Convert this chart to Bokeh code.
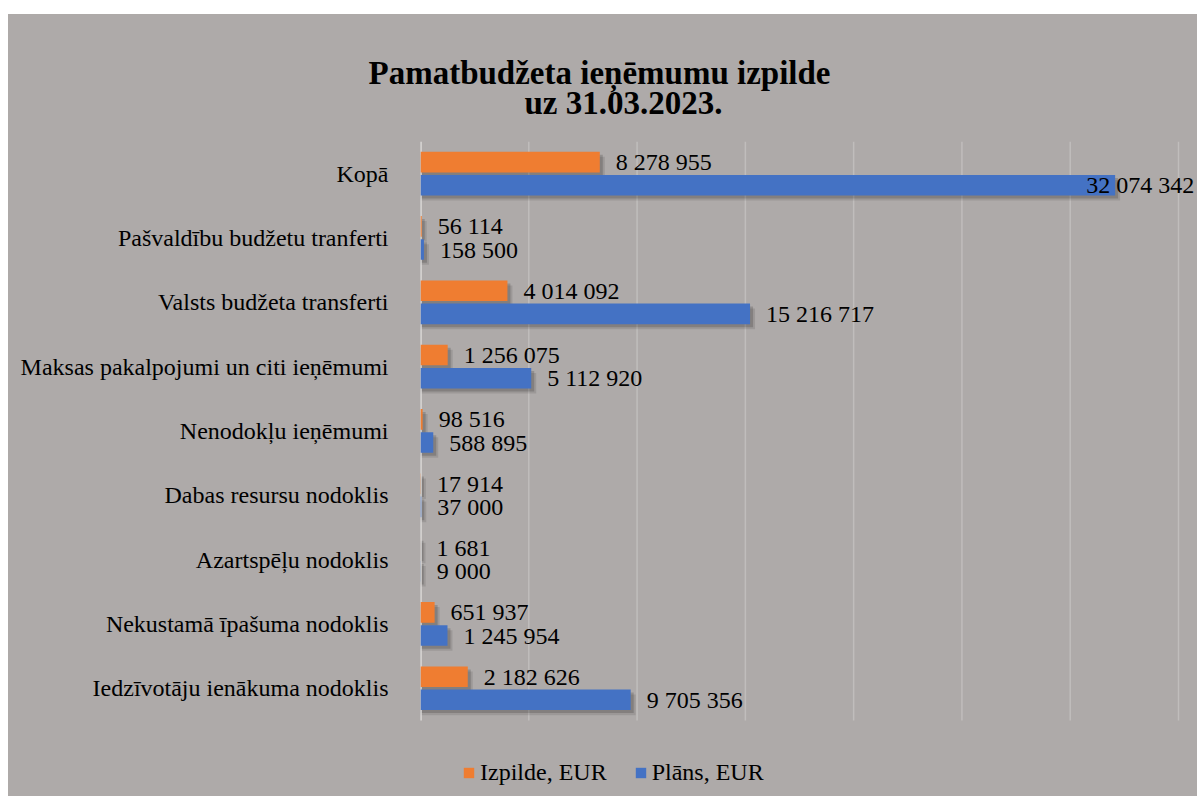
from bokeh.plotting import figure
from bokeh.models import (ColumnDataSource, Range1d, FixedTicker, LabelSet, Legend,
                          LegendItem, Title, Dodge)
from bokeh.embed import file_html
from bokeh.resources import INLINE

# ---- data (bottom to top) ----
categories = [
    "Iedzīvotāju ienākuma nodoklis",
    "Nekustamā īpašuma nodoklis",
    "Azartspēļu nodoklis",
    "Dabas resursu nodoklis",
    "Nenodokļu ieņēmumi",
    "Maksas pakalpojumi un citi ieņēmumi",
    "Valsts budžeta transferti",
    "Pašvaldību budžetu tranferti",
    "Kopā",
]
izpilde = [2182626, 651937, 1681, 17914, 98516, 1256075, 4014092, 56114, 8278955]
plans = [9705356, 1245954, 9000, 37000, 588895, 5112920, 15216717, 158500, 32074342]
series_names = ["Izpilde, EUR", "Plāns, EUR"]
title_lines = ["Pamatbudžeta ieņēmumu izpilde", "uz  31.03.2023."]
x_ticks = [0, 5e6, 10e6, 15e6, 20e6, 25e6, 30e6, 35e6]

ORANGE = "#ef7d31"
BLUE = "#4472c4"
BG = "#aeaaa9"
FONT = "Liberation Serif"

def fmt(v):
    return f"{v:,}".replace(",", " ")

idx = list(range(len(categories)))
DODGE = 0.18
H = 0.32
PX = 35e6 / 758.0          # data units per pixel along x
PY = 1.0 / 64.25           # data units per pixel along y
Y_TOP = len(categories) - 0.5
Y_BOT = -0.5

src_o = ColumnDataSource(dict(y=[i + DODGE for i in idx], v=izpilde,
                              lab=[fmt(v) for v in izpilde],
                              xo=[16] * len(idx)))
src_b = ColumnDataSource(dict(y=[i - DODGE for i in idx], v=plans,
                              lab=[fmt(v) for v in plans],
                              xo=[-29 if v > 30e6 else 16 for v in plans]))
grid_src = ColumnDataSource(dict(x=x_ticks, y0=[Y_BOT] * len(x_ticks),
                                 y1=[Y_TOP] * len(x_ticks)))

p = figure(width=1189, height=782, output_backend="svg", toolbar_location=None,
           x_range=Range1d(0, 35e6 + 19 * PX),
           y_range=Range1d(Y_BOT - 76 * PY, Y_TOP),
           min_border_left=412, min_border_right=0, min_border_top=127,
           min_border_bottom=0)
p.margin = (14, 0, 0, 8)
p.styles = {"background-color": BG}
p.background_fill_color = BG
p.border_fill_color = BG
p.outline_line_color = None

# vertical grid lines limited to the category area
p.segment(x0="x", x1="x", y0="y0", y1="y1", source=grid_src,
          line_color="#c0bdbc", line_width=1.5)

# soft shadows
for k, a in ((5, 0.10), (3, 0.16)):
    for s in (src_o, src_b):
        p.hbar(y={"field": "y", "transform": Dodge(value=-k * PY)},
               left=0,
               right={"field": "v", "transform": Dodge(value=k * PX)},
               height=H, source=s, fill_color="black", fill_alpha=a,
               line_color=None)

# zero line
p.segment(x0=[0], x1=[0], y0=[Y_BOT], y1=[Y_TOP], line_color="#dcdad9", line_width=2.5)

r_o = p.hbar(y="y", left=0, right="v", height=H, source=src_o, fill_color=ORANGE, line_color=None)
r_b = p.hbar(y="y", left=0, right="v", height=H, source=src_b, fill_color=BLUE, line_color=None)

for s in (src_o, src_b):
    p.add_layout(LabelSet(x="v", y="y", text="lab", source=s, x_offset="xo",
                          text_font=FONT, text_font_size="24px", text_color="black",
                          text_baseline="middle", text_align="left"))

# axes
p.xaxis.visible = False
p.xgrid.visible = False
p.ygrid.visible = False

ya = p.yaxis[0]
ya.ticker = FixedTicker(ticks=idx)
ya.major_label_overrides = {i: c for i, c in zip(idx, categories)}
ya.major_label_text_font = FONT
ya.major_label_text_font_size = "24px"
ya.major_label_text_color = "black"
ya.major_tick_line_color = None
ya.minor_tick_line_color = None
ya.axis_line_color = None
ya.major_label_standoff = 26

# title: second line first (closest to the frame)
p.add_layout(Title(text=title_lines[1], align="left", offset=104, text_font=FONT,
                   text_font_size="33px", text_font_style="bold", text_color="black",
                   standoff=42), "above")
p.add_layout(Title(text=title_lines[0], align="left", offset=-52, text_font=FONT,
                   text_font_size="33px", text_font_style="bold", text_color="black",
                   standoff=-58), "above")

legend = Legend(items=[LegendItem(label=series_names[0], renderers=[r_o]),
                       LegendItem(label=series_names[1], renderers=[r_b])],
                orientation="horizontal", location=(42, 10),
                glyph_width=13, glyph_height=13, label_standoff=5, spacing=27,
                padding=0, margin=0,
                label_text_font=FONT, label_text_font_size="24px",
                label_text_color="black",
                background_fill_alpha=0, border_line_alpha=0)
p.add_layout(legend, "center")

open("out.html", "w").write(file_html(p, INLINE))
